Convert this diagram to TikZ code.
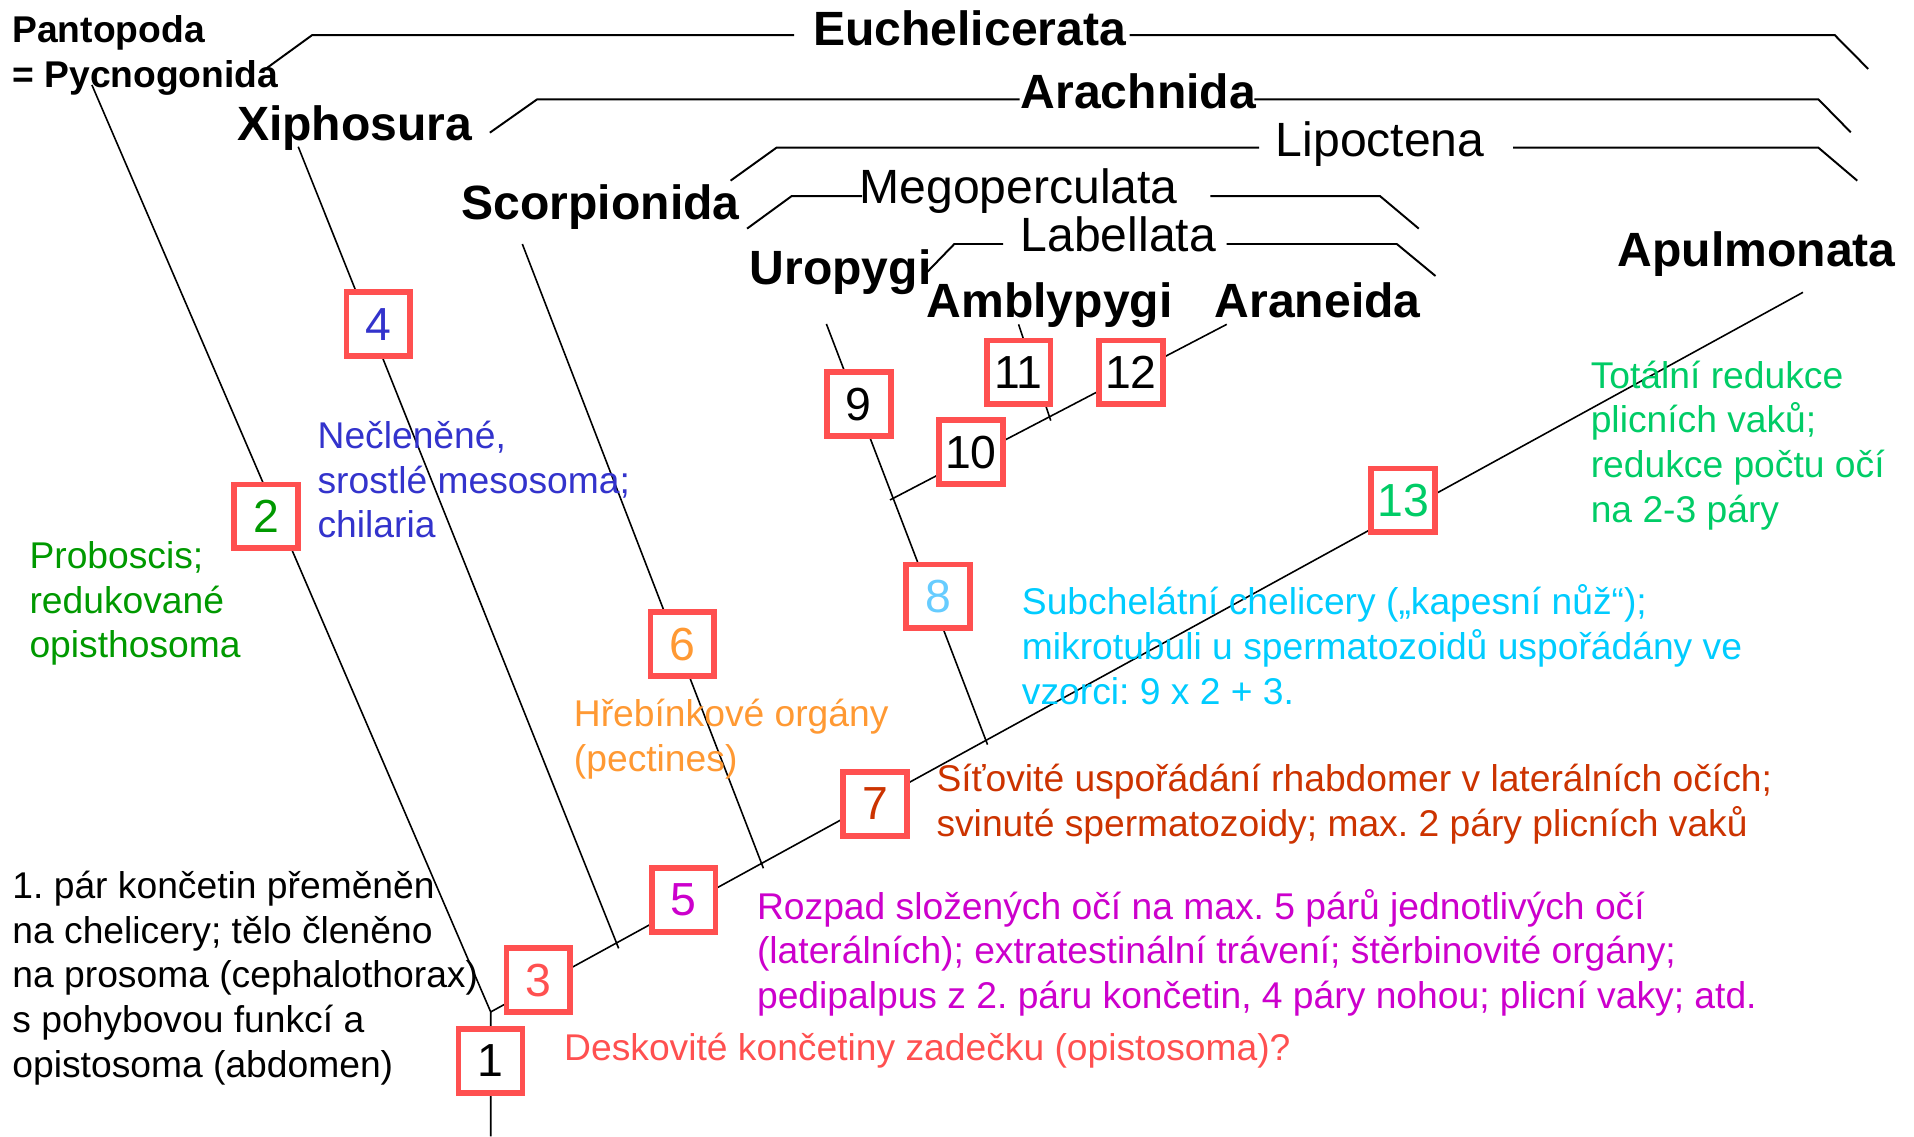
\documentclass[tikz,border=0pt]{standalone}
\usepackage{fontspec}
\setmainfont{Liberation Sans}
\frenchspacing
\definecolor{boxred}{RGB}{255,80,80}
\definecolor{cgreen}{RGB}{0,153,0}
\definecolor{cblue}{RGB}{51,51,204}
\definecolor{csalmon}{RGB}{255,80,80}
\definecolor{cmagenta}{RGB}{204,0,204}
\definecolor{corange}{RGB}{255,153,51}
\definecolor{crust}{RGB}{204,51,0}
\definecolor{clight}{RGB}{102,204,255}
\definecolor{ccyan}{RGB}{0,204,255}
\definecolor{cgreentwo}{RGB}{0,204,102}
\begin{document}
\frenchspacing
\begin{tikzpicture}[x=1pt,y=-1pt,
  tree/.style={line width=1.3pt, black},
  brk/.style={line width=1.6pt, black},
  charbox/.style={draw=boxred, line width=4.7pt, fill=white, minimum size=52.3pt, inner sep=0pt, font=\fontsize{38}{40}\selectfont},
  taxon/.style={anchor=base west, inner sep=0pt, font=\fontsize{39.4}{42}\selectfont\bfseries},
  clade/.style={anchor=base west, inner sep=0pt, font=\fontsize{39.4}{42}\selectfont},
  desc/.style={anchor=base west, inner sep=0pt, align=left, font=\fontsize{30.5}{36.6}\selectfont\frenchspacing},
]
\useasboundingbox[fill=white] (0,0) rectangle (1568,931);

% tree coordinates
\coordinate (root) at (402,931);
\coordinate (J) at (402,829);
\coordinate (pan) at (75.3,69.6);
\coordinate (apu) at (1477,239.5);
\coordinate (xiph) at (244.3,120.2);
\coordinate (xiphB) at (506.8,776.9);
\coordinate (scor) at (427.9,199.9);
\coordinate (scorB) at (625.4,711.3);
\coordinate (uro) at (677,265.4);
\coordinate (uroB) at (809,610);
\coordinate (labB) at (729.1,409.6);
\coordinate (ara) at (1005,265.7);
\coordinate (amb) at (834.4,265.7);
\coordinate (ambB) at (860.8,344.6);

\draw[tree] (root) -- (J) -- (pan);
\draw[tree] (J) -- (apu);
\draw[tree] (xiph) -- (xiphB);
\draw[tree] (scor) -- (scorB);
\draw[tree] (uro) -- (uroB);
\draw[tree] (labB) -- (ara);
\draw[tree] (amb) -- (ambB);

% clade brackets
\coordinate (e1) at (218.2,56);   \coordinate (e2) at (255.8,28.7); \coordinate (e3) at (650.6,28.7);
\coordinate (e4) at (925.4,28.7); \coordinate (e5) at (1503,28.7);  \coordinate (e6) at (1530.5,56.5);
\coordinate (a1) at (401.3,108.7); \coordinate (a2) at (440,81.4);  \coordinate (a3) at (835.3,81.4);
\coordinate (a4) at (1027.7,81.4); \coordinate (a5) at (1489.7,81.4); \coordinate (a6) at (1516.2,108.4);
\coordinate (l1) at (598.5,148);  \coordinate (l2) at (636.1,121);  \coordinate (l3) at (1031.4,121);
\coordinate (l4) at (1239.6,121); \coordinate (l5) at (1489.7,121); \coordinate (l6) at (1521.5,148);
\coordinate (m1) at (612,187.3);  \coordinate (m2) at (648.6,160.6); \coordinate (m3) at (706.3,160.6);
\coordinate (m4) at (991.6,160.6); \coordinate (m5) at (1130.5,160.6); \coordinate (m6) at (1162.3,187.3);
\coordinate (b1c) at (759.8,222.6); \coordinate (b2c) at (781.8,199.9); \coordinate (b3c) at (821.8,199.9);
\coordinate (b4c) at (1004.8,199.9); \coordinate (b5c) at (1144.3,199.9); \coordinate (b6c) at (1176,226.1);
\draw[brk] (e1) -- (e2) -- (e3);  \draw[brk] (e4) -- (e5) -- (e6);
\draw[brk] (a1) -- (a2) -- (a3);  \draw[brk] (a4) -- (a5) -- (a6);
\draw[brk] (l1) -- (l2) -- (l3);  \draw[brk] (l4) -- (l5) -- (l6);
\draw[brk] (m1) -- (m2) -- (m3);  \draw[brk] (m4) -- (m5) -- (m6);
\draw[brk] (b1c) -- (b2c) -- (b3c); \draw[brk] (b4c) -- (b5c) -- (b6c);

% taxon labels (base anchor = baseline of last line)
\node[taxon, align=left, font=\fontsize{30.5}{37}\selectfont\bfseries] (tPan) at (10,72) {Pantopoda\\= Pycnogonida};
\node[taxon] (tEuch) at (666,37) {Euchelicerata};
\node[taxon] (tXiph) at (194,115) {Xiphosura};
\node[taxon] (tArach) at (836,89) {Arachnida};
\node[clade] (tLipo) at (1045,128) {Lipoctena};
\node[clade] (tMego) at (704,167) {Megoperculata};
\node[clade] (tLab) at (836,206) {Labellata};
\node[taxon] (tScor) at (378,180) {Scorpionida};
\node[taxon] (tUro) at (614,233) {Uropygi};
\node[taxon] (tAmb) at (759,260) {Amblypygi};
\node[taxon] (tAra) at (995,260) {Araneida};
\node[taxon] (tApu) at (1325,218.5) {Apulmonata};

% descriptions (base anchor = baseline of last line)
\node[desc, text=cgreen] (d2) at (24,538.8) {Proboscis;\\redukované\\opisthosoma};
\node[desc, text=cblue] (d4) at (260,440.5) {Nečleněné,\\srostlé mesosoma;\\chilaria};
\node[desc, text=black] (d1) at (10,882.4) {1. pár končetin přeměněn\\na chelicery; tělo členěno\\na prosoma (cephalothorax)\\s pohybovou funkcí a\\opistosoma (abdomen)};
\node[desc, text=csalmon] (d3) at (462,868.4) {Deskovité končetiny zadečku (opistosoma)?};
\node[desc, text=cmagenta] (d5) at (620,826.3) {Rozpad složených očí na max. 5 párů jednotlivých očí\\(laterálních); extratestinální trávení; štěrbinovité orgány;\\pedipalpus z 2. páru končetin, 4 páry nohou; plicní vaky; atd.};
\node[desc, text=crust] (d7) at (767,685.1) {Síťovité uspořádání rhabdomer v laterálních očích;\\svinuté spermatozoidy; max. 2 páry plicních vaků};
\node[desc, text=corange] (d6) at (470,631.9) {Hřebínkové orgány\\(pectines)};
\node[desc, text=ccyan] (d8) at (837,577) {Subchelátní chelicery („kapesní nůž“);\\mikrotubuli u spermatozoidů uspořádány ve\\vzorci: 9 x 2 + 3.};
\node[desc, text=cgreentwo] (d13) at (1303,427.8) {Totální redukce\\plicních vaků;\\redukce počtu očí\\na 2-3 páry};

% character boxes
\node[charbox, text=black] (n1) at (401.8,869) {1};
\node[charbox, text=cgreen] (n2) at (218,423) {2};
\node[charbox, text=csalmon] (n3) at (441,803) {3};
\node[charbox, text=cblue] (n4) at (310,265.5) {4};
\node[charbox, text=cmagenta] (n5) at (560,737.3) {5};
\node[charbox, text=corange] (n6) at (559,527.7) {6};
\node[charbox, text=crust] (n7) at (717,658.6) {7};
\node[charbox, text=clight] (n8) at (768.6,488.5) {8};
\node[charbox, text=black] (n9) at (703.5,331.2) {9};
\node[charbox, text=black] (n10) at (795.3,370.5) {10};
\node[charbox, text=black] (n11) at (834.5,305) {11};
\node[charbox, text=black] (n12) at (926.5,305) {12};
\node[charbox, text=cgreentwo] (n13) at (1149.5,409.9) {13};
\end{tikzpicture}
\end{document}
